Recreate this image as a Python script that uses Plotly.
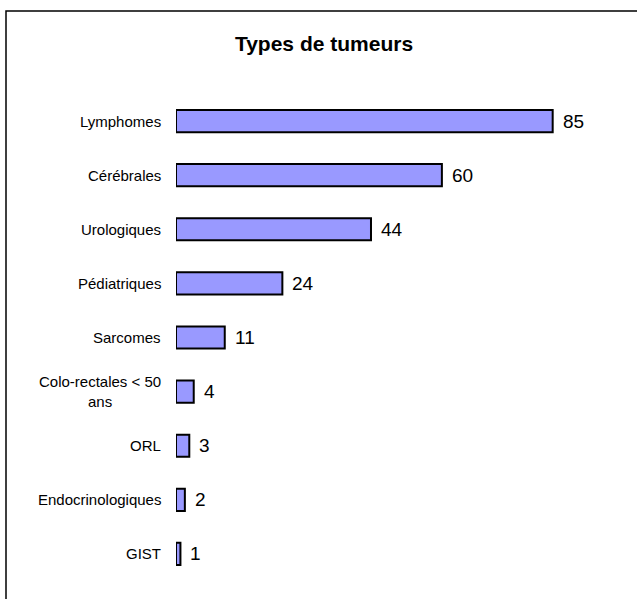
import plotly.graph_objects as go

categories = ["Lymphomes", "Cérébrales", "Urologiques", "Pédiatriques", "Sarcomes",
              "Colo-rectales < 50<br>ans", "ORL", "Endocrinologiques", "GIST"]
values = [85, 60, 44, 24, 11, 4, 3, 2, 1]
title_text = "Types de tumeurs"

W, H = 637, 599
L, T, B, R = 176, 94, 18, 40
xmax = 95
pw = W - L - R
ph = H - T - B
FONT = "Liberation Sans, Arial"

fig = go.Figure()
fig.add_trace(go.Bar(
    x=values, y=categories, orientation="h",
    marker=dict(color="#9999FF", line=dict(color="black", width=2)),
    cliponaxis=False, width=0.41, hoverinfo="skip",
))

for c, v in zip(categories, values):
    fig.add_annotation(x=0, y=c, xref="x", yref="y", text=c, showarrow=False,
                       xanchor="right", yanchor="middle", align="center", xshift=-13,
                       font=dict(size=15, color="black", family=FONT))
    fig.add_annotation(x=v, y=c, xref="x", yref="y", text=str(v), showarrow=False,
                       xanchor="left", yanchor="middle", xshift=8,
                       font=dict(size=19, color="black", family=FONT))

fig.add_shape(type="rect", xref="paper", yref="paper",
              x0=(6 - L) / pw, x1=1.3, y0=-0.2, y1=1 + (T - 11) / ph,
              line=dict(color="black", width=1.5), fillcolor="rgba(0,0,0,0)")

fig.update_layout(
    width=W, height=H,
    margin=dict(l=L, r=R, t=T, b=B),
    paper_bgcolor="white", plot_bgcolor="white",
    showlegend=False,
    title=dict(text="<b>" + title_text + "</b>", x=324 / W, xref="container", xanchor="center",
               y=1 - 44 / H, yref="container", yanchor="middle",
               font=dict(size=21, color="black", family=FONT)),
    xaxis=dict(range=[0, xmax], visible=False, fixedrange=True),
    yaxis=dict(autorange="reversed", showticklabels=False, showgrid=False, zeroline=False,
               showline=False, ticks="", fixedrange=True),
    font=dict(family=FONT, color="black"),
)

fig.write_html("out.html", config={"displayModeBar": False},
               post_script="document.body.style.margin='0';document.body.style.overflow='hidden';")
